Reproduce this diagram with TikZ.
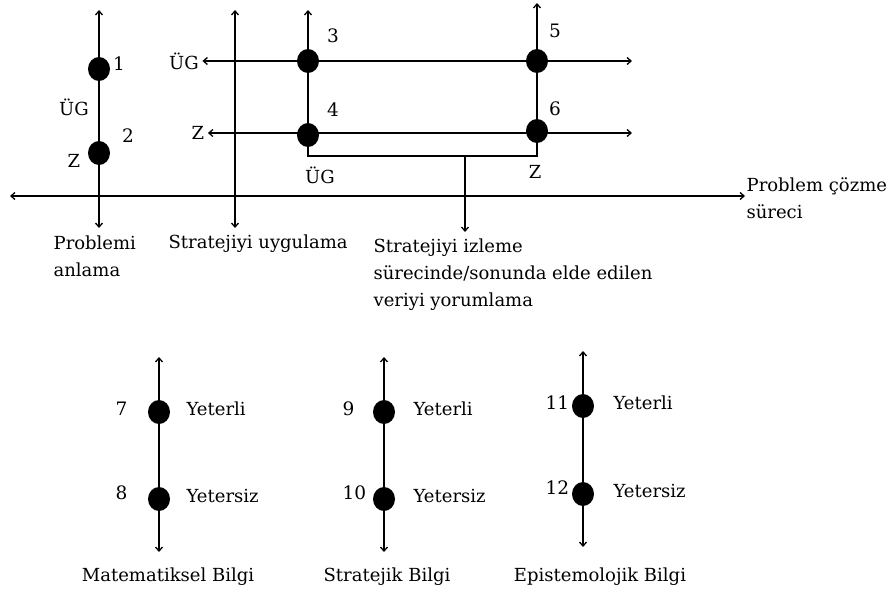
\documentclass[tikz,border=0pt]{standalone}
\usepackage{fontspec}
\setmainfont{DejaVu Serif}
\usetikzlibrary{shapes.geometric,arrows.meta}

\begin{document}
\begin{tikzpicture}[x=1pt,y=-1pt,>={Straight Barb[length=4pt,width=7pt]},line width=1.3pt,
    dot/.style={ellipse,fill=black,inner sep=0pt,minimum width=22pt,minimum height=24pt},
    txt/.style={font=\fontsize{18}{27}\selectfont,inner sep=0pt,align=left},
    num/.style={font=\fontsize{18.5}{20}\selectfont,inner sep=0pt}]
    \useasboundingbox (0,0) rectangle (894,589);
    % problem solving process
    \coordinate (a1t) at (99,10);
    \coordinate (a1b) at (99,228);
    \coordinate (a2t) at (235,10);
    \coordinate (a2b) at (235,228);
    \coordinate (a3t) at (308,10);
    \coordinate (a5t) at (537,3);
    \coordinate (h1r) at (632,61);
    \coordinate (h2r) at (632,133);
    \coordinate (axl) at (10,196);
    \coordinate (axr) at (745,196);
    \coordinate (brk) at (465,156);
    \coordinate (brkb) at (465,232);
    \node[dot] (d1) at (99,69) {};
    \node[dot] (d2) at (99,153) {};
    \node[dot] (d3) at (308,61) {};
    \node[dot] (d4) at (308,135) {};
    \node[dot] (d5) at (537,61) {};
    \node[dot] (d6) at (537,131) {};
    \node[txt,inner sep=3pt] (ug1) at (184,61) {ÜG};
    \node[txt,inner sep=3pt] (z1) at (198,133) {Z};
    \node[txt] (ug0) at (74,107) {ÜG};
    \node[txt] (z0) at (74,161) {Z};
    \node[txt] (ug2) at (320,175) {ÜG};
    \node[txt] (z2) at (535,172) {Z};
    \node[num] (n1) at (119,64) {1};
    \node[num] (n2) at (128,136) {2};
    \node[num] (n3) at (333,36) {3};
    \node[num] (n4) at (333,110) {4};
    \node[num] (n5) at (555,31) {5};
    \node[num] (n6) at (555,109) {6};
    \node[txt,anchor=north west] (anl) at (53,235) {Problemi\\anlama};
    \node[txt,anchor=north west] (uyg) at (168,234) {Stratejiyi uygulama};
    \node[txt,anchor=north west] (yor) at (373,238) {Stratejiyi izleme\\sürecinde/sonunda elde edilen\\veriyi yorumlama};
    \node[txt,anchor=north west] (psr) at (746,177) {Problem çözme\\süreci};
    \draw[<->] (a1t) -- (a1b);
    \draw[<->] (a2t) -- (a2b);
    \draw[<->] (axl) -- (axr);
    \draw[->] (d3.center) -- (a3t);
    \draw[->] (d5.center) -- (a5t);
    \draw (d3.center) -- (d4.center) |- (brk) -| (d6.center) -- (d5.center);
    \draw[->] (brk) -- (brkb);
    \draw[<->] (ug1) -- (h1r);
    \draw[<->] (z1) -- (h2r);
    % knowledge types
    \foreach \nm/\x/\ya/\yb/\ta/\tb/\nx/\lx in {ma/159/412/499/7/8/115/186,st/384/412/499/9/10/342/413,ep/583/406/494/11/12/545/613}{
        \node[dot] (\nm1) at (\x,\ya) {};
        \node[dot] (\nm2) at (\x,\yb) {};
        \coordinate (\nm t) at (\x,\ya-55);
        \coordinate (\nm b) at (\x,\yb+53);
        \draw[<->] (\nm t) -- (\nm b);
        \node[num,anchor=west] (\nm n1) at (\nx,\ya-3) {\ta};
        \node[num,anchor=west] (\nm n2) at (\nx,\yb-6) {\tb};
        \node[txt,anchor=west] (\nm y1) at (\lx,\ya-3) {Yeterli};
        \node[txt,anchor=west] (\nm y2) at (\lx,\yb-3) {Yetersiz};
    }
    \node[txt] (mat) at (168,577) {Matematiksel Bilgi};
    \node[txt] (str) at (387,577) {Stratejik Bilgi};
    \node[txt] (epi) at (600,577) {Epistemolojik Bilgi};
\end{tikzpicture}
\end{document}
